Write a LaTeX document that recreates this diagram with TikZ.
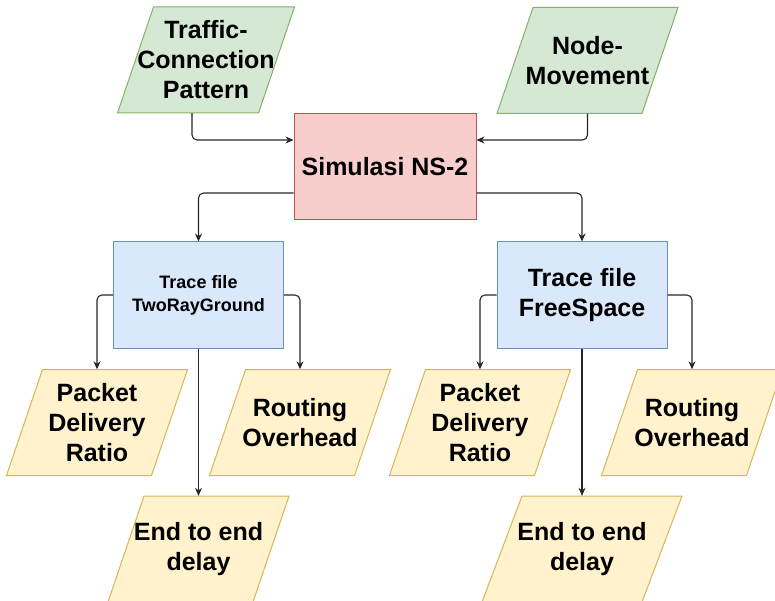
\documentclass[tikz,border=0pt]{standalone}
\usepackage{fontspec}
\setmainfont{Liberation Sans}
\usetikzlibrary{arrows.meta,calc,backgrounds}
\definecolor{gfill}{HTML}{D5E8D4}\definecolor{gline}{HTML}{82B366}
\definecolor{rfill}{HTML}{F8CECC}\definecolor{rline}{HTML}{B85450}
\definecolor{bfill}{HTML}{DAE8FC}\definecolor{bline}{HTML}{6C8EBF}
\definecolor{yfill}{HTML}{FFF2CC}\definecolor{yline}{HTML}{D6B656}
\newcommand\parashape[5]{%
  \path[fill=#2,draw=#3,line width=1pt]
    ($(#1.center)+(-#4/2+#5,-53)$) -- ($(#1.center)+(#4/2+#5,-53)$) --
    ($(#1.center)+(#4/2-#5,53)$) -- ($(#1.center)+(-#4/2-#5,53)$) -- cycle;}
\begin{document}
\begin{tikzpicture}[x=1pt,y=-1pt,
  txt/.style={font=\fontsize{25}{30}\selectfont\bfseries, align=center, inner sep=0pt, text=black},
  iobox/.style={txt, minimum width=145pt, minimum height=106pt},
  simbox/.style={txt, fill=rfill, draw=rline, line width=1pt, minimum width=182pt, minimum height=106pt},
  trbox/.style={txt, fill=bfill, draw=bline, line width=1pt, minimum width=170pt, minimum height=106pt},
  conn/.style={draw=black!85, line width=1.1pt, rounded corners=5pt, -{Stealth[length=8pt,width=7pt]}}
]
\useasboundingbox (0,0) rectangle (775,601);
\node[iobox, minimum width=141pt] (traffic) at (206,60) {Traffic-\\Connection\\Pattern};
\node[iobox] (move) at (587.5,60.5) {Node-\\Movement};
\node[simbox] (sim) at (385,167) {Simulasi NS-2};
\node[trbox, font=\fontsize{18}{23}\selectfont\bfseries] (trL) at (198.5,295) {Trace file\\TwoRayGround};
\node[trbox] (trR) at (582,295) {Trace file\\FreeSpace};
\node[iobox] (pdrL) at (97,422.5) {Packet\\Delivery\\Ratio};
\node[iobox] (rohL) at (300,422.5) {Routing\\Overhead};
\node[iobox] (e2eL) at (198.5,549) {End to end\\delay};
\node[iobox] (pdrR) at (480,422.5) {Packet\\Delivery\\Ratio};
\node[iobox] (rohR) at (692,422.5) {Routing\\Overhead};
\node[iobox, minimum width=160pt] (e2eR) at (582,549) {End to end\\delay};
\begin{pgfonlayer}{background}
  \parashape{traffic}{gfill}{gline}{141}{18}
  \parashape{move}{gfill}{gline}{145}{18}
  \parashape{pdrL}{yfill}{yline}{145}{18}
  \parashape{rohL}{yfill}{yline}{145}{18}
  \parashape{e2eL}{yfill}{yline}{145}{18}
  \parashape{pdrR}{yfill}{yline}{145}{18}
  \parashape{rohR}{yfill}{yline}{145}{18}
  \parashape{e2eR}{yfill}{yline}{160}{20}
\end{pgfonlayer}
\draw[conn] ($(traffic.south)+(-14,0)$) |- ($(sim.west)+(0,-27)$);
\draw[conn] (move.south) |- ($(sim.east)+(0,-27)$);
\draw[conn] ($(sim.west)+(0,26)$) -| (trL.north);
\draw[conn] ($(sim.east)+(0,26)$) -| (trR.north);
\draw[conn] (trL.west) -| (pdrL.north);
\draw[conn] (trL.east) -| (rohL.north);
\draw[conn] (trL.south) -- (e2eL.north);
\draw[conn] (trR.west) -| (pdrR.north);
\draw[conn] (trR.east) -| (rohR.north);
\draw[conn] (trR.south) -- (e2eR.north);
\end{tikzpicture}
\end{document}
